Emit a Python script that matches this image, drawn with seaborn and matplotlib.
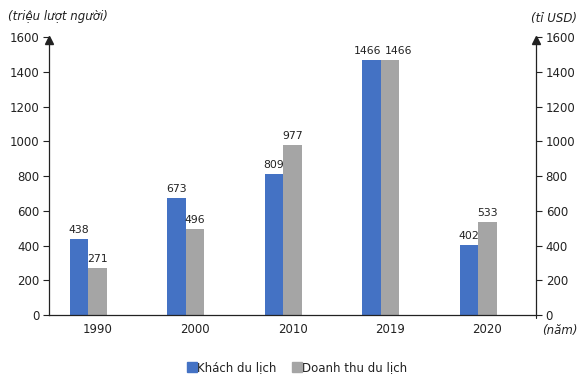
import matplotlib
matplotlib.use("Agg")
import matplotlib.pyplot as plt
import seaborn as sns
import pandas as pd
from matplotlib.lines import Line2D

years = ["1990", "2000", "2010", "2019", "2020"]
khach = [438, 673, 809, 1466, 402]
doanhthu = [271, 496, 977, 1466, 533]
series_names = ["Khách du lịch", "Doanh thu du lịch"]
colors = ["#4472C4", "#A5A5A5"]
yticks = [0, 200, 400, 600, 800, 1000, 1200, 1400, 1600]

df = pd.DataFrame({
    "year": years * 2,
    "value": khach + doanhthu,
    "series": [series_names[0]] * len(years) + [series_names[1]] * len(years),
})

sns.set_style("white")
plt.rcParams["font.family"] = ["DejaVu Sans"]
txt = "#222222"

fig = plt.figure(figsize=(5.86, 3.83), dpi=100)
ax = fig.add_axes([0.0836, 0.1775, 0.8311, 0.7259])
# third (empty) hue slot reproduces the left-shifted bar pair of the original
hue_order = series_names + [" "]
sns.barplot(data=df, x="year", y="value", hue="series", hue_order=hue_order,
            palette=colors + ["#FFFFFF"], width=0.57, gap=0, ax=ax, legend=False,
            saturation=1, linewidth=0, edgecolor="none")
ax.set_xlim(-0.5, 4.5)
ax.set_ylim(0, 1600)
ax.set_xlabel("")
ax.set_ylabel("")
ax.set_yticks(yticks)
ax.set_yticklabels([str(t) for t in yticks], fontsize=8.5, color=txt)
ax.tick_params(axis="y", left=True, length=4, width=0.8, color=txt, pad=3)
ax.tick_params(axis="x", bottom=False, labelsize=8.5, labelcolor=txt, pad=2)
for s in ["top", "right"]:
    ax.spines[s].set_visible(False)
for s in ["left", "bottom"]:
    ax.spines[s].set_color(txt)
    ax.spines[s].set_linewidth(0.9)

conts = [c for c in ax.containers if len(c) > 0]
for i, cont in enumerate(conts[:2]):
    labels = ax.bar_label(cont, fontsize=7.8, color=txt, padding=3)
    for j, t in enumerate(labels):
        if abs(khach[j] - doanhthu[j]) < 100:
            x, y = t.xyann
            t.xyann = (x + (-3 if i == 0 else 6), y)

ax2 = ax.twinx()
ax2.set_ylim(0, 1600)
ax2.set_yticks(yticks)
ax2.set_yticklabels([str(t) for t in yticks], fontsize=8.5, color=txt)
ax2.tick_params(axis="y", right=True, length=4, width=0.8, color=txt, pad=3)
for s in ["top", "left", "bottom"]:
    ax2.spines[s].set_visible(False)
ax2.spines["right"].set_color(txt)
ax2.spines["right"].set_linewidth(0.9)

for xpos in (0, 1):
    ax.plot([xpos], [0.99], marker="^", markersize=6, color=txt,
            transform=ax.transAxes, clip_on=False)
ax.plot([1.0, 1.0], [0, -0.012], color=txt, lw=0.8, transform=ax.transAxes, clip_on=False)

fig.text(0.014, 0.958, "(triệu lượt người)", fontsize=8.5, style="italic",
         color=txt, ha="left", va="center")
fig.text(0.985, 0.952, "(tỉ USD)", fontsize=8.5, style="italic",
         color=txt, ha="right", va="center")
fig.text(0.955, 0.138, "(năm)", fontsize=8.5, style="italic",
         color=txt, ha="center", va="center")

handles = [Line2D([0], [0], marker="s", linestyle="none", markersize=6.5,
                  markerfacecolor=c, markeredgecolor=c) for c in colors]
fig.legend(handles, series_names, loc="center", bbox_to_anchor=(0.505, 0.04),
           ncol=2, frameon=False, fontsize=8.5, handletextpad=-0.2,
           handlelength=1.2, columnspacing=1.2, labelcolor=txt)

fig.savefig("out.png", dpi=100)
